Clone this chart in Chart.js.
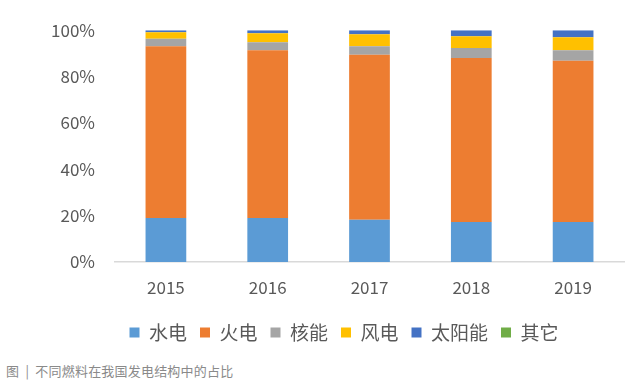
<!DOCTYPE html>
<html>
<head>
<meta charset="utf-8">
<script src="https://cdn.jsdelivr.net/npm/chart.js@4"></script>
<style>
  html, body { margin: 0; padding: 0; background: #fff; }
  #wrap { position: relative; width: 627px; height: 355px; }
  .caption { position: absolute; left: 6px; top: 361px; font: 13px "Noto Sans CJK SC", sans-serif; color: #8a8a8a; letter-spacing: 0.2px; }
</style>
</head>
<body>
<div id="wrap"><canvas id="chart"></canvas></div>
<div class="caption">图 &nbsp;|&nbsp; 不同燃料在我国发电结构中的占比</div>
<script>
// 不同燃料在我国发电结构中的占比 (%)
const years = ['2015', '2016', '2017', '2018', '2019'];
const hydro = [19.0, 19.0, 18.2, 17.3, 17.3];
const thermal = [74.1, 72.4, 71.2, 70.7, 69.5];
const nuclear = [3.2, 3.4, 3.7, 4.3, 4.6];
const wind = [2.8, 3.9, 5.2, 5.1, 5.6];
const solar = [0.9, 1.3, 1.7, 2.6, 3.0];
const other = [0, 0, 0, 0, 0];
const yTicks = [0, 20, 40, 60, 80, 100];

const series = [
  { label: '水电', data: hydro, color: '#5B9BD5' },
  { label: '火电', data: thermal, color: '#ED7D31' },
  { label: '核能', data: nuclear, color: '#A5A5A5' },
  { label: '风电', data: wind, color: '#FFC000' },
  { label: '太阳能', data: solar, color: '#4472C4' },
  { label: '其它', data: other, color: '#70AD47' }
];

const font = "'Noto Sans CJK SC', sans-serif";

// the original legend sits a bit right of the canvas centre
const legendShift = {
  id: 'legendShift',
  afterLayout(chart) {
    if (chart.legend) chart.legend.left += 64;
  }
};

new Chart(document.getElementById('chart'), {
  type: 'bar',
  data: {
    labels: years,
    datasets: series.map(s => ({
      label: s.label, data: s.data, backgroundColor: s.color,
      borderWidth: 0, categoryPercentage: 1, barPercentage: 0.4
    }))
  },
  plugins: [legendShift],
  options: {
    responsive: true, maintainAspectRatio: false, animation: false,
    layout: { padding: { top: 14, right: 3, left: 0, bottom: 3 } },
    plugins: {
      tooltip: { enabled: false },
      legend: {
        position: 'bottom',
        labels: { boxWidth: 10, boxHeight: 10, padding: 13, color: '#595959', font: { family: font, size: 19 } }
      }
    },
    scales: {
      x: {
        stacked: true,
        grid: { display: false, drawTicks: false },
        border: { display: true, color: '#D9D9D9', width: 1.5 },
        ticks: { color: '#595959', padding: 15, font: { family: font, size: 17 } },
        afterFit: s => { s.height = 48; }
      },
      y: {
        stacked: true, min: 0, max: 100,
        afterBuildTicks: s => { s.ticks = yTicks.map(v => ({ value: v })); },
        grid: { display: false, drawTicks: false },
        border: { display: false },
        ticks: { color: '#595959', padding: 20, font: { family: font, size: 17 }, callback: v => v + '%' },
        afterFit: s => { s.width = 115; }
      }
    }
  }
});
</script>
</body>
</html>
